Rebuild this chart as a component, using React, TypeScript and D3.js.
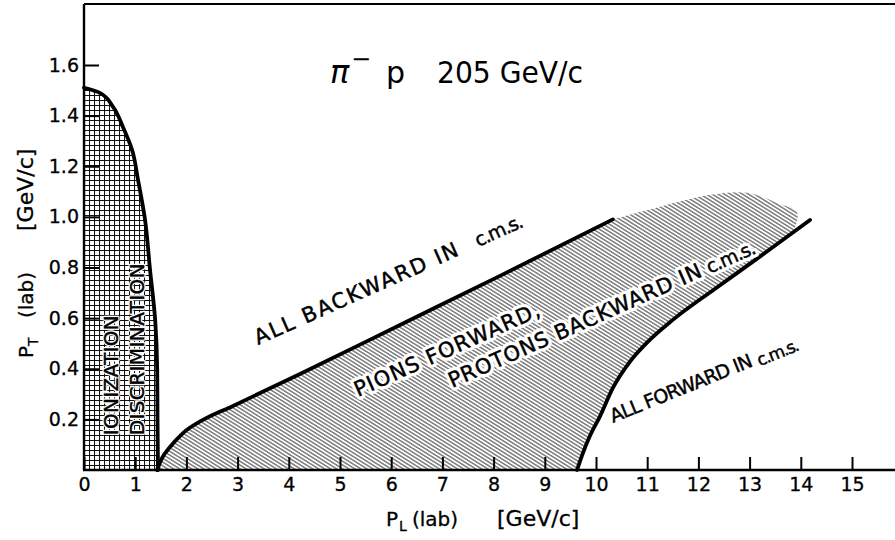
import React, { useEffect, useRef } from 'react';
import * as d3 from 'd3';

// axis ticks
const xTickValues = [0, 1, 2, 3, 4, 5, 6, 7, 8, 9, 10, 11, 12, 13, 14, 15];
const xTickLabels = ['0', '1', '2', '3', '4', '5', '6', '7', '8', '9', '10', '11', '12', '13', '14', '15'];
const yTickValues = [0.2, 0.4, 0.6, 0.8, 1.0, 1.2, 1.4, 1.6];
const yTickLabels = ['0.2', '0.4', '0.6', '0.8', '1.0', '1.2', '1.4', '1.6'];

// ionization discrimination limit (P_L, P_T), from the axis upwards
const ionizationPL = [1.445, 1.436, 1.43, 1.39, 1.29, 1.19, 1.055, 0.94, 0.76, 0.57, 0.31, 0];
const ionizationPT = [0, 0.198, 0.395, 0.593, 0.79, 0.992, 1.146, 1.264, 1.355, 1.434, 1.49, 1.51];

// all backward in c.m.s. boundary
const backwardPL = [1.426, 1.523, 1.68, 1.934, 2.324, 2.91, 4.219, 6.172, 8.125, 10.33];
const backwardPT = [0, 0.047, 0.091, 0.146, 0.198, 0.253, 0.379, 0.573, 0.767, 0.99];

// all forward in c.m.s. boundary
const forwardPL = [9.63, 9.73, 9.88, 10.08, 10.33, 10.66, 11.05, 11.5, 12.32, 13.14, 14.18];
const forwardPT = [0, 0.059, 0.134, 0.213, 0.324, 0.427, 0.514, 0.593, 0.715, 0.834, 0.988];

// open top edge of the hatched band
const capPL = [10.33, 11.25, 12.23, 12.95, 13.53, 13.93, 13.85];
const capPT = [0.99, 1.04, 1.087, 1.095, 1.055, 1.016, 0.939];

const FONT = "'DejaVu Sans', 'Liberation Sans', sans-serif";

const App: React.FC = () => {
  const svgRef = useRef<SVGSVGElement | null>(null);

  useEffect(() => {
    const width = 895;
    const height = 540;
    const svg = d3.select(svgRef.current);
    svg.selectAll('*').remove();
    svg.attr('width', width).attr('height', height);

    const x = d3.scaleLinear().domain([0, 15]).range([84, 852]);
    const y = d3.scaleLinear().domain([0, 1.6]).range([470, 65]);

    const defs = svg.append('defs');
    // crosshatch grid
    const grid = defs.append('pattern')
      .attr('id', 'grid')
      .attr('patternUnits', 'userSpaceOnUse')
      .attr('x', x(0)).attr('y', y(0))
      .attr('width', 5).attr('height', 5);
    grid.append('rect').attr('width', 5).attr('height', 5).attr('fill', '#fff');
    grid.append('path').attr('d', 'M0 0.5H5M0.5 0V5').attr('stroke', '#111').attr('stroke-width', 1.1);

    // diagonal hatching
    const hatch = defs.append('pattern')
      .attr('id', 'hatch')
      .attr('patternUnits', 'userSpaceOnUse')
      .attr('width', 10).attr('height', 3.2)
      .attr('patternTransform', 'rotate(32)');
    hatch.append('rect').attr('width', 10).attr('height', 3.2).attr('fill', '#fff');
    hatch.append('line').attr('x1', 0).attr('x2', 10).attr('y1', 1.6).attr('y2', 1.6)
      .attr('stroke', '#222').attr('stroke-width', 0.9);

    const line = d3.line<[number, number]>()
      .x(d => x(d[0]))
      .y(d => y(d[1]))
      .curve(d3.curveMonotoneX);
    const lineY = d3.line<[number, number]>()
      .x(d => x(d[0]))
      .y(d => y(d[1]))
      .curve(d3.curveMonotoneY);
    const capLine = d3.line<[number, number]>()
      .x(d => x(d[0]))
      .y(d => y(d[1]))
      .curve(d3.curveCatmullRom.alpha(0.5));

    const ion = ionizationPL.map((v, i) => [v, ionizationPT[i]] as [number, number]);
    const back = backwardPL.map((v, i) => [v, backwardPT[i]] as [number, number]);
    const fwd = forwardPL.map((v, i) => [v, forwardPT[i]] as [number, number]);
    const cap = capPL.map((v, i) => [v, capPT[i]] as [number, number]);
    const capEnd = cap[cap.length - 1];
    const fwdRev = [capEnd, ...fwd.filter(d => d[0] < capEnd[0]).reverse()];

    // hatched region
    const hatchD = (line(back) as string)
      + (capLine(cap) as string).replace(/^M/, 'L')
      + fwdRev.map(d => `L${x(d[0])},${y(d[1])}`).join('')
      + 'Z';
    svg.append('path').attr('d', hatchD).attr('fill', 'url(#hatch)');

    // ionization region
    svg.append('path')
      .attr('d', (lineY(ion) as string) + `L${x(0)},${y(0)}Z`)
      .attr('fill', 'url(#grid)');

    // boundaries
    [lineY(ion), line(back), line(fwd)].forEach(d => {
      svg.append('path')
        .attr('d', d as string)
        .attr('fill', 'none')
        .attr('stroke', '#000')
        .attr('stroke-width', 3.8)
        .attr('stroke-linecap', 'round');
    });

    // frame
    svg.append('line').attr('x1', x(0)).attr('x2', width).attr('y1', 4).attr('y2', 4)
      .attr('stroke', '#000').attr('stroke-width', 2);
    svg.append('line').attr('x1', x(0)).attr('x2', x(0)).attr('y1', 4).attr('y2', y(0))
      .attr('stroke', '#000').attr('stroke-width', 2.4);
    svg.append('line').attr('x1', x(0) - 1).attr('x2', width).attr('y1', y(0)).attr('y2', y(0))
      .attr('stroke', '#000').attr('stroke-width', 2.4);

    // X axis
    const gx = svg.append('g')
      .attr('transform', `translate(0,${y(0)})`)
      .call(d3.axisBottom(x).tickValues(xTickValues)
        .tickFormat((d, i) => xTickLabels[i]).tickSize(-13).tickPadding(8));
    gx.select('.domain').remove();
    gx.selectAll('line').attr('stroke-width', 2);
    gx.selectAll('text').attr('font-family', FONT).attr('font-size', 19).attr('fill', '#000')
      .attr('stroke', '#000').attr('stroke-width', 0.3);

    // Y axis
    const gy = svg.append('g')
      .attr('transform', `translate(${x(0)},0)`)
      .call(d3.axisLeft(y).tickValues(yTickValues)
        .tickFormat((d, i) => yTickLabels[i]).tickSize(-15).tickPadding(5));
    gy.select('.domain').remove();
    gy.selectAll('line').attr('stroke-width', 2);
    gy.selectAll('text').attr('font-family', FONT).attr('font-size', 19).attr('fill', '#000')
      .attr('stroke', '#000').attr('stroke-width', 0.3);

    // Title
    const title = svg.append('text').attr('font-family', FONT).attr('fill', '#000');
    title.append('tspan').attr('x', 330).attr('y', 83).attr('font-size', 32)
      .attr('font-style', 'italic').text('π');
    title.append('tspan').attr('x', 351).attr('y', 67).attr('font-size', 24).text('−');
    title.append('tspan').attr('x', 386).attr('y', 83).attr('font-size', 30).text('p');
    svg.append('text').attr('font-family', FONT).attr('x', 437).attr('y', 83)
      .attr('font-size', 30).attr('textLength', 146).attr('lengthAdjust', 'spacingAndGlyphs')
      .text('205 GeV/c');

    // X axis title
    const xt = svg.append('text').attr('font-family', FONT).attr('font-size', 20).attr('fill', '#000')
      .attr('stroke', '#000').attr('stroke-width', 0.3);
    xt.append('tspan').attr('x', 386).attr('y', 526).text('P');
    xt.append('tspan').attr('x', 399).attr('y', 531).attr('font-size', 14).text('L');
    xt.append('tspan').attr('x', 412).attr('y', 526).text('(lab)');
    xt.append('tspan').attr('x', 497).attr('y', 526).attr('font-size', 22).text('[GeV/c]');

    // Y axis title
    const yt = svg.append('text').attr('font-family', FONT).attr('font-size', 20).attr('fill', '#000')
      .attr('stroke', '#000').attr('stroke-width', 0.3)
      .attr('transform', 'translate(33,358) rotate(-90)');
    yt.append('tspan').attr('x', 0).attr('y', 0).text('P');
    yt.append('tspan').attr('x', 12).attr('y', 5).attr('font-size', 14).text('T');
    yt.append('tspan').attr('x', 40).attr('y', 0).text('(lab)');
    yt.append('tspan').attr('x', 127).attr('y', 0).attr('font-size', 22).text('[GeV/c]');

    // in-plot annotations
    const notes: { t: string; at: [number, number]; a: number; fs: number; len: number; halo: number }[] = [
      { t: 'IONIZATION', at: [0.66, 0.137], a: 90, fs: 20, len: 120, halo: 3 },
      { t: 'DISCRIMINATION', at: [1.17, 0.137], a: 90, fs: 20, len: 172, halo: 3 },
      { t: 'ALL BACKWARD IN', at: [3.4, 0.494], a: 24, fs: 21, len: 221, halo: 0 },
      { t: 'c.m.s.', at: [7.7, 0.881], a: 24, fs: 19, len: 51, halo: 0 },
      { t: 'PIONS FORWARD,', at: [5.35, 0.288], a: 24, fs: 21, len: 201, halo: 7 },
      { t: 'PROTONS BACKWARD IN', at: [7.19, 0.324], a: 24, fs: 21, len: 275, halo: 7 },
      { t: 'c.m.s.', at: [12.22, 0.775], a: 24, fs: 19, len: 52, halo: 7 },
      { t: 'ALL FORWARD IN', at: [10.33, 0.186], a: 22, fs: 19, len: 152, halo: 0 },
      { t: 'c.m.s.', at: [13.2, 0.41], a: 22, fs: 17, len: 44, halo: 0 },
    ];
    notes.forEach(n => {
      const tf = `translate(${x(n.at[0])},${y(n.at[1])}) rotate(${-n.a})`;
      if (n.halo > 0) {
        svg.append('text')
          .attr('font-family', FONT).attr('font-size', n.fs)
          .attr('transform', tf)
          .attr('textLength', n.len).attr('lengthAdjust', 'spacing')
          .attr('fill', '#fff').attr('stroke', '#fff')
          .attr('stroke-width', n.halo).attr('stroke-linejoin', 'round')
          .text(n.t);
      }
      svg.append('text')
        .attr('font-family', FONT).attr('font-size', n.fs)
        .attr('transform', tf)
        .attr('textLength', n.len).attr('lengthAdjust', 'spacing')
        .attr('fill', '#000').attr('stroke', '#000').attr('stroke-width', 0.45)
        .text(n.t);
    });
  }, []);

  return (
    <svg ref={svgRef} style={{ position: 'absolute', left: 0, top: 0, background: '#fff' }}></svg>
  );
};

export default App;
